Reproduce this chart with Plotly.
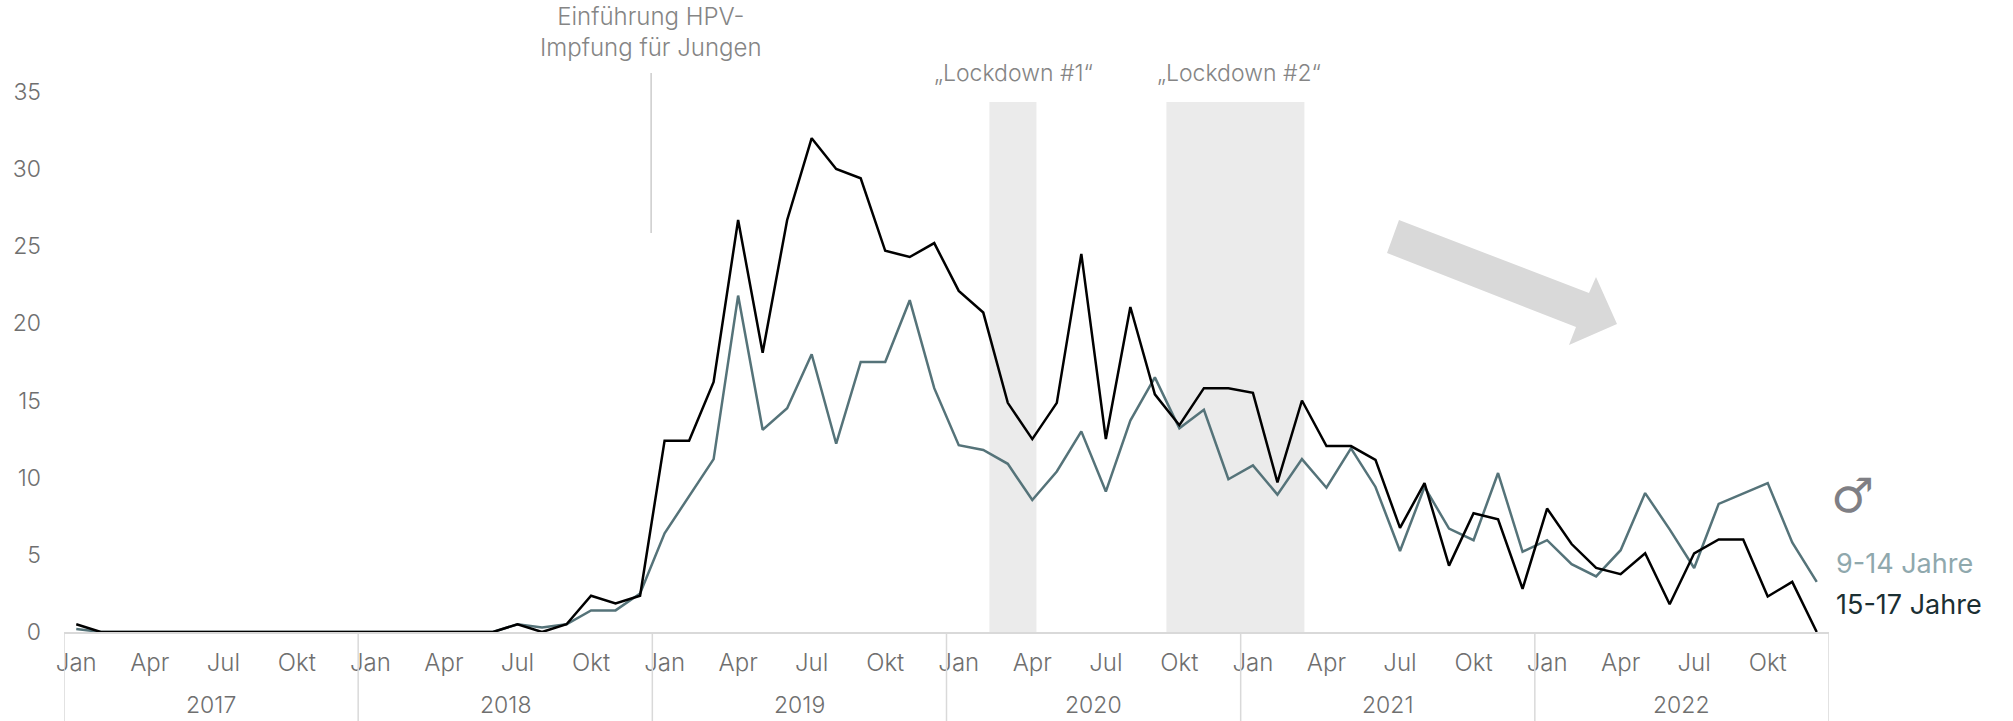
import plotly.graph_objects as go

W, H = 2013, 721
L, R, T, B = 64, 1829, 61, 632
FONT = "Inter"

months = ["Jan", "Feb", "Mär", "Apr", "Mai", "Jun", "Jul", "Aug", "Sep", "Okt", "Nov", "Dez"]
years = [2017, 2018, 2019, 2020, 2021, 2022]
tick_months = ["Jan", "Apr", "Jul", "Okt"]
y_ticks = [0, 5, 10, 15, 20, 25, 30, 35]
periods = [(y, m) for y in years for m in months]

boys_9_14 = [0.2, 0, 0, 0, 0, 0, 0, 0, 0, 0, 0, 0,
             0, 0, 0, 0, 0, 0, 0.5, 0.3, 0.5, 1.4, 1.4, 2.5,
             6.4, 8.8, 11.2, 21.8, 13.1, 14.5, 18.0, 12.2, 17.5, 17.5, 21.5, 15.8,
             12.1, 11.8, 10.9, 8.55, 10.4, 13.0, 9.1, 13.7, 16.5, 13.2, 14.4, 9.9,
             10.8, 8.9, 11.2, 9.35, 11.9, 9.4, 5.25, 9.4, 6.7, 5.95, 10.3, 5.2,
             5.95, 4.4, 3.6, 5.3, 9.0, 6.65, 4.15, 8.3, 9.0, 9.65, 5.8, 3.25]
boys_15_17 = [0.5, 0, 0, 0, 0, 0, 0, 0, 0, 0, 0, 0,
              0, 0, 0, 0, 0, 0, 0.5, 0, 0.5, 2.35, 1.85, 2.35,
              12.4, 12.4, 16.2, 26.7, 18.1, 26.7, 32.0, 30.0, 29.4, 24.7, 24.3, 25.2,
              22.1, 20.7, 14.85, 12.5, 14.85, 24.5, 12.5, 21.06, 15.4, 13.4, 15.8, 15.8,
              15.5, 9.7, 15.0, 12.05, 12.05, 11.15, 6.75, 9.65, 4.3, 7.7, 7.3, 2.8,
              8.0, 5.7, 4.15, 3.75, 5.1, 1.8, 5.1, 6.0, 6.0, 2.3, 3.25, 0]
series_names = ["9-14 Jahre", "15-17 Jahre"]
lockdowns = [("„Lockdown #1“", 37.25, 39.17), ("„Lockdown #2“", 44.47, 50.1)]

def px(x):
    return (x - L) / (R - L)

def py(y):
    return (B - y) / (B - T)

idx = list(range(len(periods)))
fig = go.Figure()
fig.add_trace(go.Scatter(x=idx, y=boys_9_14, mode="lines", name=series_names[0],
                         line=dict(color="#557379", width=2.5), cliponaxis=False))
fig.add_trace(go.Scatter(x=idx, y=boys_15_17, mode="lines", name=series_names[1],
                         line=dict(color="#000000", width=2.5), cliponaxis=False))

shapes = []
annotations = []
label_x = [1014, 1239]
for (name, a, b), lx in zip(lockdowns, label_x):
    shapes.append(dict(type="rect", xref="x", yref="y", x0=a, x1=b, y0=0, y1=34.35,
                       fillcolor="#ebebeb", line_width=0, layer="below"))
    annotations.append(dict(text=name, xref="paper", yref="paper", x=px(lx),
                            y=py(73), showarrow=False, yanchor="middle",
                            font=dict(family=FONT, size=23, color="#858585", weight=300)))
for i in range(len(years) + 1):
    shapes.append(dict(type="line", xref="x", yref="paper", x0=i * 12 - 0.5, x1=i * 12 - 0.5,
                       y0=py(632), y1=py(721), line=dict(color="#d9d9d9", width=1.5)))
for i, y in enumerate(years):
    annotations.append(dict(text=str(y), xref="x", yref="paper", x=i * 12 + 5.5, y=py(720),
                            showarrow=False, yanchor="bottom", borderpad=0,
                            font=dict(family=FONT, size=23, color="#6f6f6f", weight=300)))
shapes.append(dict(type="line", xref="x", yref="paper", x0=23.45, x1=23.45, y0=py(73), y1=py(233),
                   line=dict(color="#bfbfbf", width=1.2)))
annotations.append(dict(text="Einführung HPV-<br>Impfung für Jungen", xref="x", yref="paper",
                        x=23.45, y=py(32), showarrow=False, yanchor="middle", align="center",
                        font=dict(family=FONT, size=24, color="#858585", weight=300)))
arrow = [(1399, 220), (1589, 293), (1596, 277), (1617, 324), (1569, 345), (1576, 327), (1387, 253)]
path = "M " + " L ".join(f"{px(x):.5f} {py(y):.5f}" for x, y in arrow) + " Z"
shapes.append(dict(type="path", xref="paper", yref="paper", path=path,
                   fillcolor="#d9d9d9", line_width=0))
annotations.append(dict(text="♂", xref="paper", yref="paper", x=px(1829), y=py(495), xanchor="left",
                        yanchor="middle", showarrow=False,
                        font=dict(family="DejaVu Sans", size=48, color="#7f7f85")))
annotations.append(dict(text=series_names[0], xref="paper", yref="paper", x=px(1834), y=py(563),
                        xanchor="left", yanchor="middle", showarrow=False,
                        font=dict(family=FONT, size=27, color="#8fa8ad")))
annotations.append(dict(text=series_names[1], xref="paper", yref="paper", x=px(1834), y=py(604),
                        xanchor="left", yanchor="middle", showarrow=False,
                        font=dict(family=FONT, size=27, color="#1b2f33")))

tickvals = [i for i, (y, m) in enumerate(periods) if m in tick_months]
ticktext = [periods[i][1] for i in tickvals]

fig.update_layout(
    width=W, height=H, autosize=False, showlegend=False,
    margin=dict(l=L, r=W - R, t=T, b=H - B, pad=0),
    paper_bgcolor="white", plot_bgcolor="white",
    font=dict(family=FONT, color="#6f6f6f"),
    shapes=shapes, annotations=annotations,
    xaxis=dict(range=[-0.5, 71.5], tickmode="array", tickvals=tickvals, ticktext=ticktext,
               showgrid=False, zeroline=False, showline=True, linecolor="#d9d9d9", linewidth=1.5,
               ticks="", ticklabelstandoff=8, tickangle=0,
               tickfont=dict(family=FONT, size=24, color="#6f6f6f", weight=300)),
    yaxis=dict(range=[0, 37], tickmode="array", tickvals=y_ticks, showgrid=False, zeroline=False,
               showline=False, ticks="", ticklabelstandoff=22,
               tickfont=dict(family=FONT, size=23, color="#6f6f6f", weight=300)),
)
fig.write_html("out.html", config={"displayModeBar": False},
               post_script="document.body.style.margin='0';document.body.style.overflow='hidden';")
